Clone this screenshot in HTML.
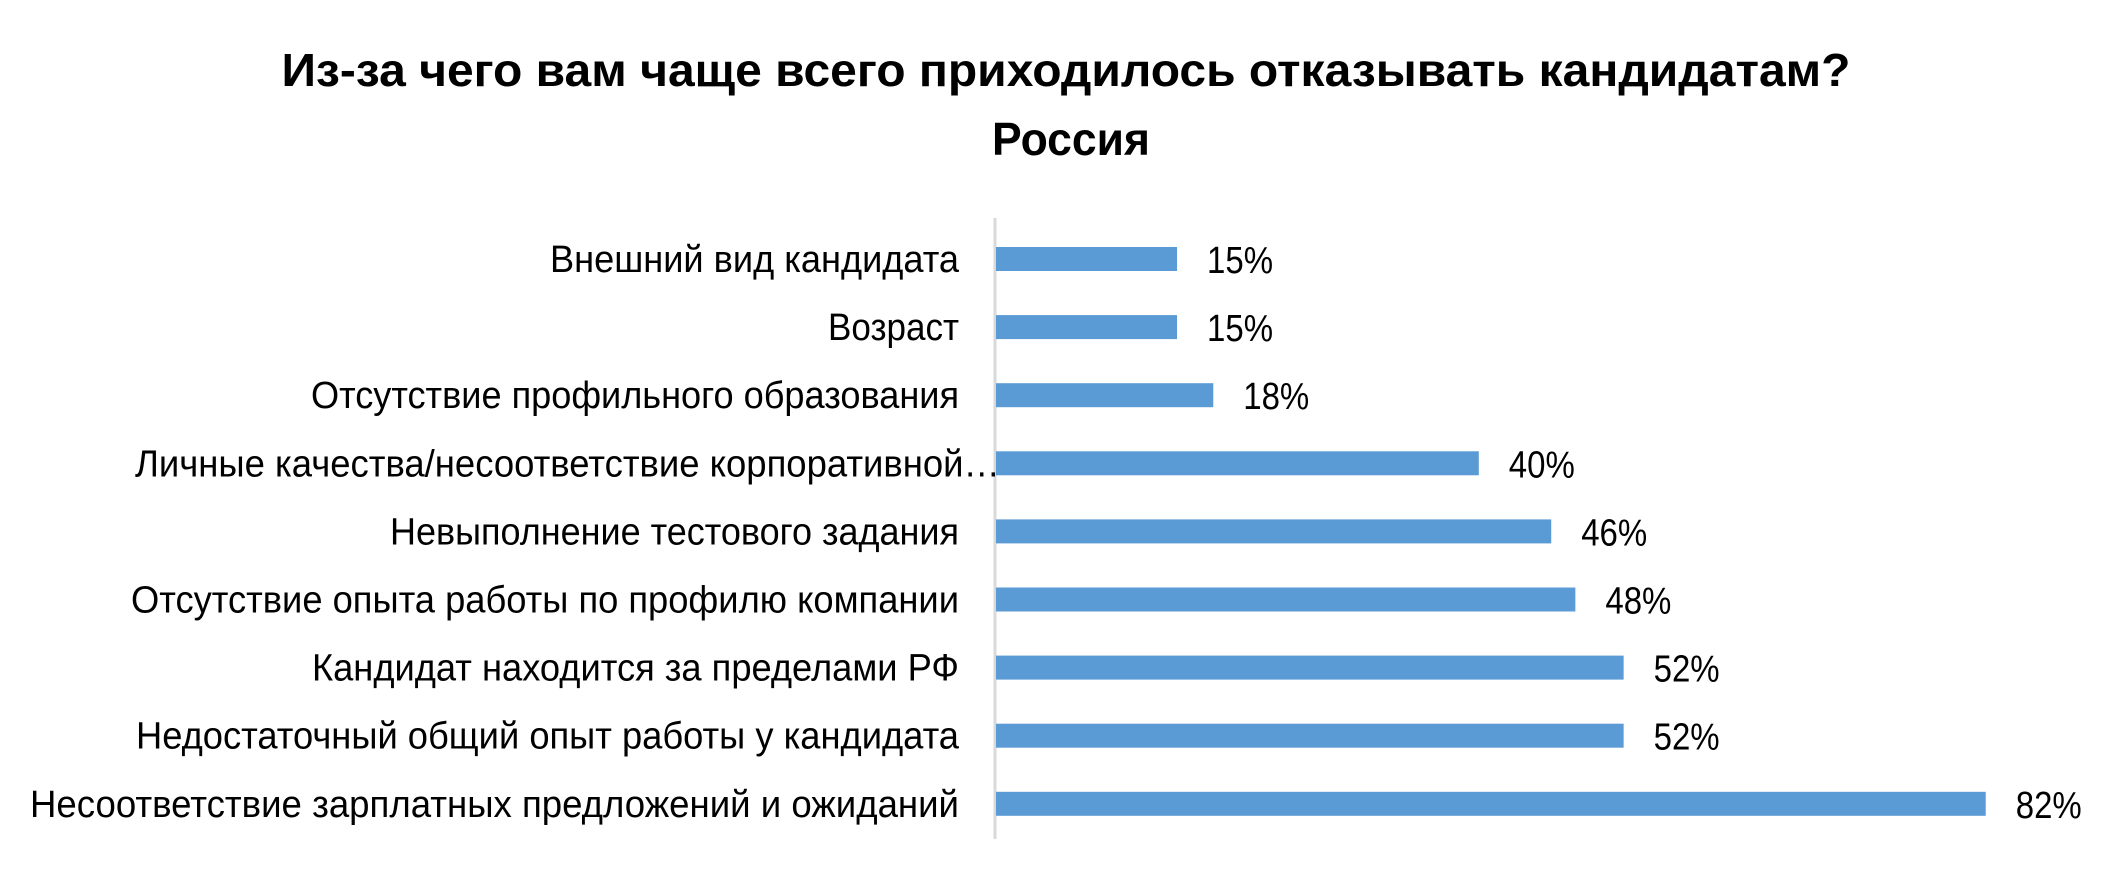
<!DOCTYPE html>
<html><head><meta charset="utf-8"><style>
html,body{margin:0;padding:0;background:#fff;}
svg{display:block;}
text{font-family:"Liberation Sans Narrow","Liberation Sans",sans-serif;fill:#000;}
</style></head><body>
<svg id="chart" width="2128" height="887" viewBox="0 0 2128 887" xmlns="http://www.w3.org/2000/svg">
<text x="1066" y="86" text-anchor="middle" font-size="46" font-weight="bold" textLength="1569" lengthAdjust="spacingAndGlyphs">Из-за чего вам чаще всего приходилось отказывать кандидатам?</text>
<text x="1071" y="155" text-anchor="middle" font-size="46" font-weight="bold" textLength="158" lengthAdjust="spacingAndGlyphs">Россия</text>
<line x1="995" y1="218" x2="995" y2="839" stroke="#d9d9d9" stroke-width="3"/>
<g id="bars"></g>
</svg>
<script>
const categories = ["Внешний вид кандидата","Возраст","Отсутствие профильного образования","Личные качества/несоответствие корпоративной…","Невыполнение тестового задания","Отсутствие опыта работы по профилю компании","Кандидат находится за пределами РФ","Недостаточный общий опыт работы у кандидата","Несоответствие зарплатных предложений и ожиданий"];
const values = [15,15,18,40,46,48,52,52,82];
const valueLabels = ["15%","15%","18%","40%","46%","48%","52%","52%","82%"];
const labelWidths = [409,131,648,865,569,828,647,823,929];

const NS="http://www.w3.org/2000/svg";
const x0=996, pxPer=12.07;
function xScale(v){return x0+v*pxPer;}
function yScale(i){return 259+i*68.1;}
const g=document.getElementById('bars');
categories.forEach((c,i)=>{
  const yc=yScale(i);
  const r=document.createElementNS(NS,'rect');
  
  
  r.setAttribute('x',x0);r.setAttribute('y',yc-12);
  r.setAttribute('width',xScale(values[i])-x0);r.setAttribute('height',24);
  r.setAttribute('fill','#5b9bd5');
  g.appendChild(r);
  const t=document.createElementNS(NS,'text');
  
  
  const w=labelWidths[i];
  const endX = i===3 ? 1000 : 959;
  t.setAttribute('x',endX-w);t.setAttribute('y',yc+13);
  t.setAttribute('font-size','38');
  t.setAttribute('textLength',w);t.setAttribute('lengthAdjust','spacingAndGlyphs');
  t.textContent=c;
  g.appendChild(t);
  const v=document.createElementNS(NS,'text');
  
  
  v.setAttribute('x',xScale(values[i])+30);v.setAttribute('y',yc+14);
  v.setAttribute('font-size','38');
  v.setAttribute('textLength',66);v.setAttribute('lengthAdjust','spacingAndGlyphs');
  v.textContent=valueLabels[i];
  g.appendChild(v);
});
</script>
</body></html>
